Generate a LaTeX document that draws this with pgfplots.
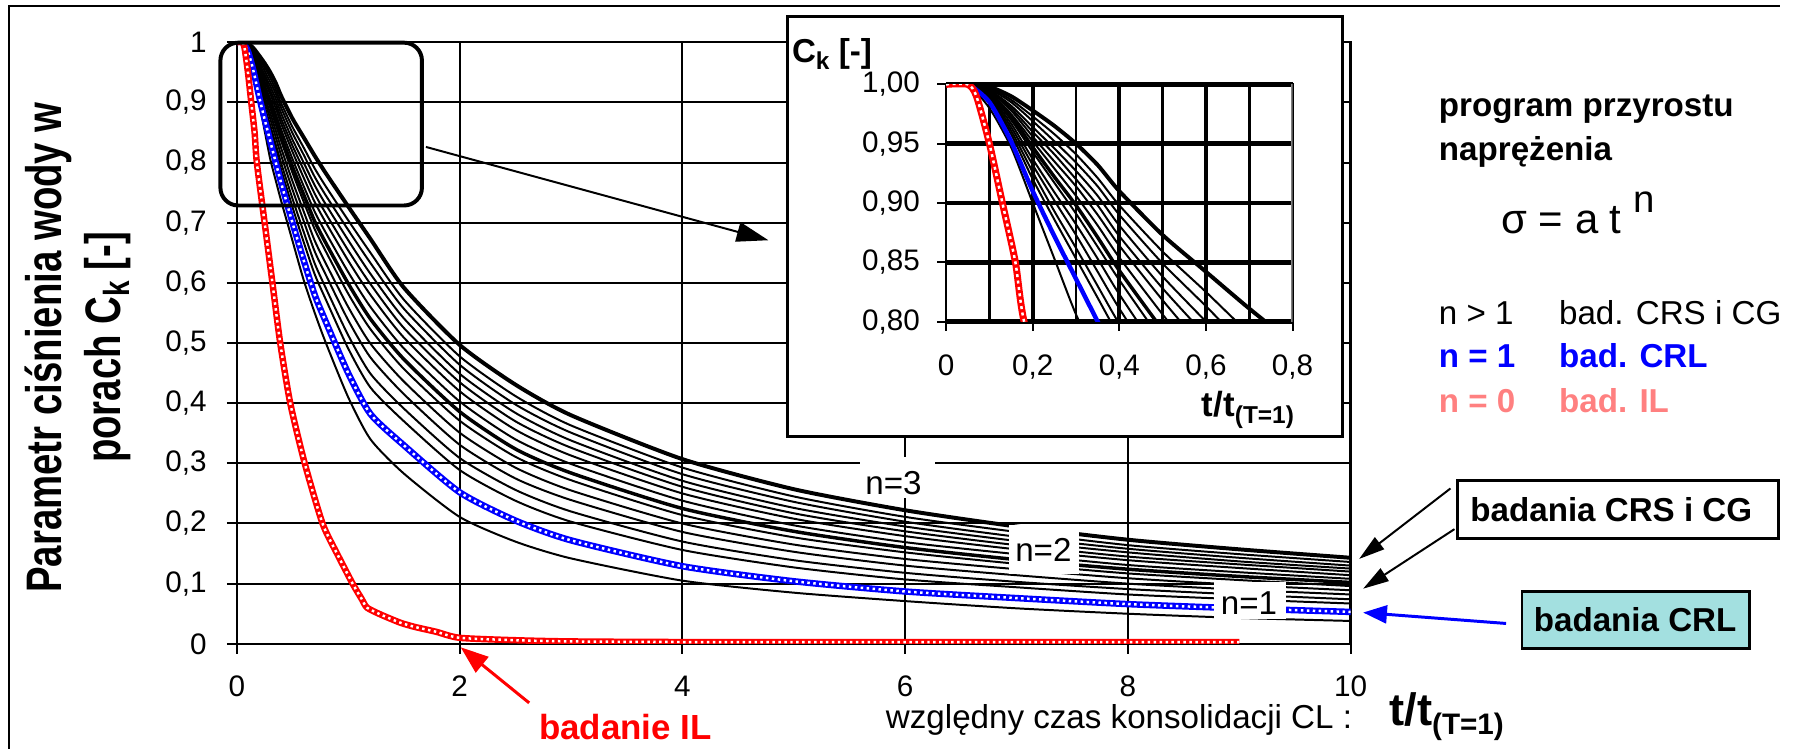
\documentclass[border=0pt]{standalone}
\usepackage{fontspec}
\setmainfont{Liberation Sans}
\usepackage{pgfplots}
\pgfplotsset{compat=1.18}
\usepackage{pgfplotstable}
\usetikzlibrary{arrows.meta}

\definecolor{crl}{RGB}{0,0,255}
\definecolor{il}{RGB}{255,0,0}
\definecolor{ilpink}{RGB}{255,128,128}
\definecolor{crlbox}{RGB}{163,224,224}

\newcommand\fs[1]{\fontsize{#1}{#1}\selectfont}

% C_k curves: T = n=3 (top), k7 = n=2, B = n=1 (CRL), Z = lowest black curve
\pgfplotstableread{
x    T     k1    k2    k3    k4    k5    k6    k7    k8    k9    k10   k11   k12   B     Z
0    1     1     1     1     1     1     1     1     1     1     1     1     1     1     1
0.05 1     1     1     1     1     1     1     1     1     1     1     1     1     1     1
0.1  0.998 0.997 0.996 0.995 0.995 0.994 0.993 0.992 0.991 0.990 0.989 0.988 0.987 0.985 0.980
0.15 0.990 0.987 0.985 0.982 0.980 0.978 0.975 0.973 0.970 0.967 0.964 0.961 0.958 0.952 0.947
0.2  0.978 0.973 0.969 0.964 0.960 0.956 0.952 0.947 0.943 0.937 0.932 0.926 0.920 0.910 0.900
0.25 0.965 0.958 0.952 0.946 0.941 0.935 0.929 0.922 0.917 0.909 0.902 0.893 0.886 0.872 0.853
0.3  0.950 0.941 0.934 0.927 0.920 0.914 0.906 0.898 0.891 0.882 0.873 0.862 0.853 0.836 0.806
0.35 0.932 0.921 0.914 0.906 0.898 0.890 0.881 0.871 0.863 0.853 0.842 0.830 0.820 0.800 0.770
0.4  0.910 0.898 0.890 0.881 0.872 0.864 0.854 0.843 0.835 0.823 0.811 0.798 0.787 0.765 0.735
0.5  0.873 0.859 0.849 0.838 0.828 0.818 0.806 0.793 0.783 0.769 0.755 0.740 0.726 0.700 0.670
0.6  0.842 0.825 0.813 0.800 0.788 0.775 0.761 0.747 0.735 0.719 0.703 0.685 0.668 0.638 0.605
0.7  0.811 0.790 0.776 0.762 0.748 0.734 0.718 0.702 0.689 0.670 0.652 0.632 0.614 0.580 0.550
0.8  0.782 0.760 0.745 0.730 0.715 0.700 0.683 0.666 0.652 0.632 0.613 0.591 0.572 0.535 0.500
1.0  0.727 0.704 0.688 0.671 0.654 0.637 0.618 0.599 0.582 0.560 0.538 0.513 0.491 0.450 0.410
1.2  0.673 0.650 0.633 0.615 0.598 0.580 0.560 0.540 0.523 0.499 0.476 0.449 0.426 0.382 0.340
1.5  0.592 0.572 0.557 0.541 0.525 0.509 0.491 0.473 0.457 0.436 0.415 0.391 0.370 0.330 0.283
2    0.497 0.478 0.464 0.449 0.435 0.420 0.403 0.386 0.371 0.351 0.331 0.309 0.289 0.252 0.211
2.5  0.431 0.412 0.398 0.384 0.370 0.356 0.340 0.324 0.311 0.293 0.275 0.256 0.238 0.205 0.170
3    0.380 0.363 0.351 0.338 0.326 0.313 0.299 0.284 0.272 0.255 0.239 0.220 0.203 0.172 0.142
4    0.307 0.293 0.282 0.271 0.261 0.250 0.238 0.225 0.214 0.200 0.186 0.170 0.156 0.129 0.105
5    0.257 0.245 0.236 0.226 0.217 0.208 0.197 0.187 0.177 0.165 0.153 0.139 0.127 0.104 0.085
6    0.222 0.211 0.203 0.195 0.187 0.179 0.169 0.160 0.152 0.141 0.130 0.118 0.107 0.087 0.071
7    0.195 0.186 0.178 0.171 0.164 0.157 0.149 0.140 0.133 0.124 0.114 0.103 0.094 0.076 0.059
8    0.173 0.164 0.158 0.152 0.145 0.139 0.131 0.124 0.117 0.109 0.100 0.091 0.082 0.066 0.050
9    0.157 0.149 0.143 0.137 0.132 0.126 0.119 0.112 0.106 0.098 0.090 0.082 0.074 0.059 0.043
10   0.143 0.136 0.130 0.125 0.120 0.114 0.108 0.102 0.096 0.089 0.082 0.074 0.067 0.053 0.038
}\curves

% badanie IL (n=0)
\pgfplotstableread{
x    y
0    1.0
0.05 1.0
0.07 0.99
0.1  0.95
0.13 0.90
0.16 0.85
0.18 0.80
0.25 0.70
0.32 0.60
0.39 0.50
0.48 0.40
0.61 0.30
0.77 0.20
0.9  0.15
1.04 0.10
1.12 0.075
1.17 0.06
1.3  0.048
1.47 0.035
1.6  0.028
1.79 0.02
2.0  0.01
2.5  0.006
3    0.004
4    0.003
6    0.003
9    0.003
}\ilcurve

\begin{document}
\begin{tikzpicture}
\begin{scope}[x=0.1mm,y=-0.1mm]
\useasboundingbox (0,0) rectangle (1793,754);
\end{scope}

% ---------------- main chart
\begin{axis}[
  at={(23.85mm,-64.85mm)}, anchor=south west,
  scale only axis, width=112.2mm, height=60.6mm,
  xmin=0, xmax=10, ymin=0, ymax=1,
  xtick={0,2,4,6,8,10},
  ytick={0,0.1,0.2,0.3,0.4,0.5,0.6,0.7,0.8,0.9,1},
  grid=major,
  major grid style={black, line width=0.2mm},
  axis line style={line width=0.25mm},
  tick style={black, line width=0.2mm},
  tick align=outside, major tick length=1mm,
  xtick pos=left, ytick pos=left,
  tick label style={font=\fs{8.5}},
  yticklabel style={xshift=-0.8mm},
  xticklabel style={yshift=-1.0mm},
  /pgf/number format/use comma,
  /pgf/number format/assume math mode=true,
  every axis plot/.append style={smooth, tension=0.4},
]
\addplot[black, line width=0.2mm] table[x=x,y=Z]{\curves};
\addplot[black, line width=0.2mm] table[x=x,y=k12]{\curves};
\addplot[black, line width=0.2mm] table[x=x,y=k11]{\curves};
\addplot[black, line width=0.2mm] table[x=x,y=k10]{\curves};
\addplot[black, line width=0.2mm] table[x=x,y=k9]{\curves};
\addplot[black, line width=0.2mm] table[x=x,y=k8]{\curves};
\addplot[black, line width=0.35mm] table[x=x,y=k7]{\curves};
\addplot[black, line width=0.2mm] table[x=x,y=k6]{\curves};
\addplot[black, line width=0.2mm] table[x=x,y=k5]{\curves};
\addplot[black, line width=0.2mm] table[x=x,y=k4]{\curves};
\addplot[black, line width=0.2mm] table[x=x,y=k3]{\curves};
\addplot[black, line width=0.2mm] table[x=x,y=k2]{\curves};
\addplot[black, line width=0.2mm] table[x=x,y=k1]{\curves};
\addplot[black, line width=0.4mm] table[x=x,y=T]{\curves};
% n=1 (CRL)
\addplot[crl, line width=0.65mm] table[x=x,y=B]{\curves};
\addplot[white, line width=0.25mm, dash pattern=on 0.25mm off 0.35mm] table[x=x,y=B]{\curves};
% n=0 (IL)
\addplot[il, line width=0.65mm] table[x=x,y=y]{\ilcurve};
\addplot[white, line width=0.25mm, dash pattern=on 0.25mm off 0.35mm] table[x=x,y=y]{\ilcurve};
\end{axis}

\begin{scope}[x=0.1mm,y=-0.1mm]
% outer frame
\draw[line width=0.25mm] (9,754) -- (9,6) -- (1793,6);
% zoom frame and arrow
\draw[line width=0.4mm, rounded corners=1.8mm] (222,43) rectangle (425,207);
\draw[line width=0.2mm, -{Triangle[length=3.2mm,width=2mm]}] (429,148) -- (774,242);
% curve labels
\fill[white] (866,460) rectangle (942,502);
\node[font=\fs{9.5}] at (900,487) {n=3};
\fill[white] (1016,529) rectangle (1087,578);
\node[font=\fs{9.5}] at (1051,554) {n=2};
\fill[white] (1223,586) rectangle (1295,623);
\node[font=\fs{9.5}] at (1258,607) {n=1};
% inset background
\draw[line width=0.3mm, fill=white] (793,17) rectangle (1352,440);
\end{scope}

% ---------------- inset
\begin{axis}[
  at={(95.3mm,-32.4mm)}, anchor=south west,
  scale only axis, width=34.9mm, height=23.9mm,
  xmin=0, xmax=0.8, ymin=0.8, ymax=1,
  xtick={0,0.2,0.4,0.6,0.8},
  ytick={0.8,0.85,0.9,0.95,1},
  ymajorgrids=true,
  major grid style={black, line width=0.45mm},
  axis line style={line width=0.2mm},
  tick style={black, line width=0.2mm},
  tick align=outside, major tick length=0.9mm,
  xtick pos=left, ytick pos=left,
  tick label style={font=\fs{8.5}},
  yticklabel style={xshift=-0.5mm, /pgf/number format/.cd, fixed, fixed zerofill, precision=2},
  xticklabel style={yshift=-1.2mm},
  /pgf/number format/use comma,
  /pgf/number format/assume math mode=true,
  every axis plot/.append style={smooth, tension=0.4},
]
\draw[black, line width=0.22mm] (axis cs:0.1,0.8) -- (axis cs:0.1,1);
\draw[black, line width=0.38mm] (axis cs:0.2,0.8) -- (axis cs:0.2,1);
\draw[black, line width=0.28mm] (axis cs:0.3,0.8) -- (axis cs:0.3,1);
\draw[black, line width=0.42mm] (axis cs:0.4,0.8) -- (axis cs:0.4,1);
\draw[black, line width=0.28mm] (axis cs:0.5,0.8) -- (axis cs:0.5,1);
\draw[black, line width=0.42mm] (axis cs:0.6,0.8) -- (axis cs:0.6,1);
\draw[black, line width=0.28mm] (axis cs:0.7,0.8) -- (axis cs:0.7,1);
\addplot[black, line width=0.2mm] table[x=x,y=Z]{\curves};
\addplot[black, line width=0.2mm] table[x=x,y=k12]{\curves};
\addplot[black, line width=0.2mm] table[x=x,y=k11]{\curves};
\addplot[black, line width=0.2mm] table[x=x,y=k10]{\curves};
\addplot[black, line width=0.2mm] table[x=x,y=k9]{\curves};
\addplot[black, line width=0.2mm] table[x=x,y=k8]{\curves};
\addplot[black, line width=0.35mm] table[x=x,y=k7]{\curves};
\addplot[black, line width=0.2mm] table[x=x,y=k6]{\curves};
\addplot[black, line width=0.2mm] table[x=x,y=k5]{\curves};
\addplot[black, line width=0.2mm] table[x=x,y=k4]{\curves};
\addplot[black, line width=0.2mm] table[x=x,y=k3]{\curves};
\addplot[black, line width=0.2mm] table[x=x,y=k2]{\curves};
\addplot[black, line width=0.2mm] table[x=x,y=k1]{\curves};
\addplot[black, line width=0.4mm] table[x=x,y=T]{\curves};
\addplot[crl, line width=0.45mm] table[x=x,y=B]{\curves};
\addplot[il, line width=0.7mm] table[x=x,y=y]{\ilcurve};
\addplot[white, line width=0.25mm, dash pattern=on 0.3mm off 0.35mm] table[x=x,y=y]{\ilcurve};
\draw[gray, line width=0.3mm] (axis cs:0.8,0.8) -- (axis cs:0.8,1);
\end{axis}

\begin{scope}[x=0.1mm,y=-0.1mm]
% inset labels
\node[font=\bfseries\fs{9.5}] at (838,54) {C\raisebox{-2pt}{\fs{7}k} [-]};
\node[font=\bfseries\fs{10}, anchor=base] at (1257,420) {t/t\raisebox{-2pt}{\fs{7}(T=1)}};
% axis titles
\node[rotate=90, anchor=base, font=\bfseries\fs{11}] at (62,350)
  {\scalebox{1}[1.3]{Parametr ciśnienia wody w}};
\node[rotate=90, anchor=base, font=\bfseries\fs{11}] at (121,350)
  {\scalebox{1}[1.3]{porach C\raisebox{-2pt}{\fs{8}k} [-]}};
\node[anchor=base west, font=\fs{9.5}] at (880,734) {względny czas konsolidacji CL :};
\node[anchor=base west, font=\bfseries\fs{13}] at (1387,731) {t/t\raisebox{-2.5pt}{\fs{8.5}(T=1)}};
% legend text
\node[anchor=base west, font=\bfseries\fs{9.5}] at (1437,117) {program przyrostu};
\node[anchor=base west, font=\bfseries\fs{9.5}] at (1437,162) {naprężenia};
\node[anchor=base west, font=\fs{12}] at (1500,235) {σ = a t \raisebox{6pt}{\fs{11}n}};
\node[anchor=base west, font=\fs{9.5}] at (1437,327) {n > 1};
\node[anchor=base west, font=\fs{9.5}] at (1558,327) {bad. CRS i CG};
\node[anchor=base west, font=\bfseries\fs{9.5}, text=crl] at (1437,370) {n = 1};
\node[anchor=base west, font=\bfseries\fs{9.5}, text=crl] at (1558,370) {bad. CRL};
\node[anchor=base west, font=\bfseries\fs{9.5}, text=ilpink] at (1437,415) {n = 0};
\node[anchor=base west, font=\bfseries\fs{9.5}, text=ilpink] at (1558,415) {bad. IL};
% callout boxes and arrows
\draw[line width=0.3mm, fill=white] (1468,484) rectangle (1791,542);
\node[font=\bfseries\fs{9.5}] at (1623,513) {badania CRS i CG};
\draw[line width=0.25mm, fill=crlbox] (1533,596) rectangle (1762,653);
\node[font=\bfseries\fs{9.5}] at (1647,624) {badania CRL};
\draw[line width=0.2mm, -{Triangle[length=2.6mm,width=1.5mm]}] (1461,492) -- (1369,563);
\draw[line width=0.2mm, -{Triangle[length=2.6mm,width=1.5mm]}] (1465,533) -- (1373,593);
\draw[crl, line width=0.3mm, -{Triangle[length=2.4mm,width=1.8mm]}] (1517,628) -- (1373,617);
\draw[il, line width=0.3mm, -{Triangle[length=2.8mm,width=2mm]}] (533,708) -- (464,652);
\node[text=il, font=\bfseries\fs{10}, anchor=base] at (630,745) {badanie IL};
\end{scope}
\end{tikzpicture}
\end{document}
